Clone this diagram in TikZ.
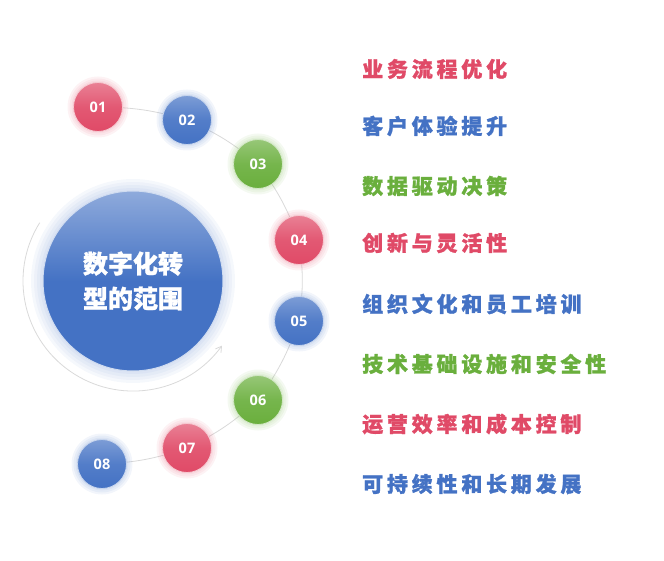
\documentclass[tikz,border=0pt]{standalone}
\usepackage{fontspec}
\setmainfont{Open Sans}
\newfontfamily\cjk{Noto Sans CJK SC}[BoldFeatures={FakeBold=1.2}]
\newfontfamily\cjkwide{Noto Sans CJK SC}[LetterSpace=18,BoldFeatures={FakeBold=1.2}]
\usetikzlibrary{arrows.meta,backgrounds}
\definecolor{ORed}{HTML}{E04A67}
\definecolor{OBlue}{HTML}{4472C4}
\definecolor{OGreen}{HTML}{6AAF3D}
\definecolor{OTrack}{HTML}{D9D9D9}

\begin{document}
\begin{tikzpicture}[x=1pt,y=-1pt,
  dot/.style={circle,minimum size=49pt,inner sep=0pt,draw=#1!30!white,line width=0.8pt,
    top color=#1!70!white,bottom color=#1,middle color=#1!92!white,
    font=\bfseries\fontsize{14.5}{14.5}\selectfont,text=white},
  hub/.style={circle,minimum size=180pt,inner sep=0pt,draw=OBlue!25!white,line width=1pt,
    top color=OBlue!60!white,bottom color=OBlue,middle color=OBlue,
    align=center,text=white,font=\cjk\bfseries\fontsize{25}{35}\selectfont},
  lbl/.style={anchor=west,inner sep=0pt,text=#1,font=\cjkwide\bfseries\fontsize{21}{21}\selectfont},
  link/.style={draw=OTrack,line width=0.8pt},
  track/.style={draw=OTrack,line width=0.8pt,-{Straight Barb[length=2mm,width=2.4mm]}}
]
  \useasboundingbox (0,0) rectangle (664,561);
  % glow round the centre
  \foreach \g in {3,6,9,12}
    \fill[OBlue,opacity=0.05] (133,281) circle (90+\g);
  \node[hub] (hub) at (133,281) {数字化转\\型的范围};
  \draw[track] (hub.center) ++(-148:110) arc[start angle=-148,end angle=-324,radius=110];

  % numbered dots
  \foreach \i/\x/\y/\c in {1/98/107/ORed,2/187/120/OBlue,3/258/164/OGreen,4/299/240/ORed,
      5/299/321/OBlue,6/258/400/OGreen,7/187/448/ORed,8/102/464/OBlue}
  {
    \foreach \g in {2,4,6}
      \fill[\c,opacity=0.07] (\x,\y) circle (24.5+\g);
    \node[dot=\c] (n\i) at (\x,\y) {0\i};
  }
  \begin{scope}[on background layer]
    \foreach \a/\b in {1/2,2/3,3/4,4/5,5/6,6/7,7/8}
      {\draw[link] (n\a.center) to[bend left=8] (n\b.center);}
  \end{scope}

  % labels
  \node[lbl=ORed] (t1) at (362,69) {业务流程优化};
  \node[lbl=OBlue] (t2) at (362,126) {客户体验提升};
  \node[lbl=OGreen] (t3) at (362,186) {数据驱动决策};
  \node[lbl=ORed] (t4) at (362,243) {创新与灵活性};
  \node[lbl=OBlue] (t5) at (362,304) {组织文化和员工培训};
  \node[lbl=OGreen] (t6) at (362,364) {技术基础设施和安全性};
  \node[lbl=ORed] (t7) at (362,424) {运营效率和成本控制};
  \node[lbl=OBlue] (t8) at (362,484) {可持续性和长期发展};
\end{tikzpicture}
\end{document}
